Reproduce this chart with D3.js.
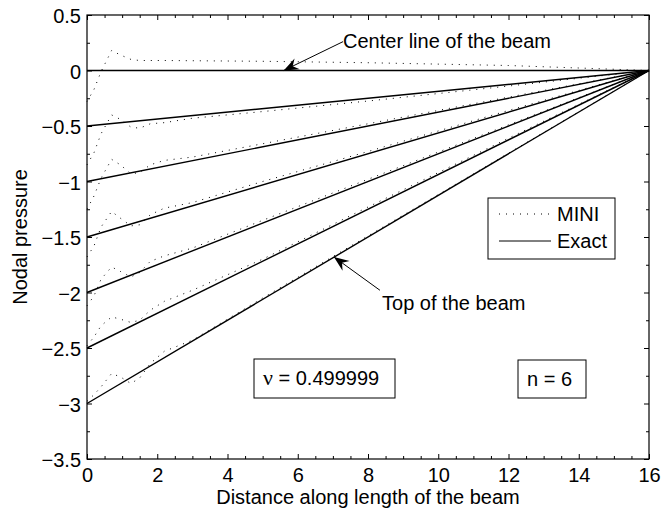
<!DOCTYPE html>
<html>
<head>
<meta charset="utf-8">
<script src="https://cdn.jsdelivr.net/npm/d3@7"></script>
<style>
body { margin: 0; background: #fff; }
text { font-family: "Liberation Sans", Arial, Helvetica, sans-serif; font-size: 20px; fill: #000; }
</style>
</head>
<body>
<svg width="664" height="515"></svg>
<script>
// node positions along the beam for the MINI solution
const xNodes = [0, 0.2, 0.4, 0.7, 0.95, 1.25, 1.5, 1.8, 2.2, 3, 5, 8, 12, 16]
const mini0 = [-0.28, -0.17, -0.01, 0.18, 0.14, 0.10, 0.09, 0.09, 0.09, 0.088, 0.083, 0.07, 0.045, 0]
const mini1 = [-0.85, -0.74, -0.57, -0.40, -0.44, -0.51, -0.52, -0.48, -0.47, -0.43, -0.37, -0.275, -0.14, 0]
const mini2 = [-1.25, -1.13, -0.97, -0.80, -0.85, -0.93, -0.92, -0.85, -0.81, -0.78, -0.66, -0.48, -0.24, 0]
const mini3 = [-1.68, -1.58, -1.41, -1.27, -1.33, -1.40, -1.39, -1.30, -1.24, -1.19, -1.00, -0.73, -0.36, 0]
const mini4 = [-2.12, -2.03, -1.88, -1.77, -1.81, -1.86, -1.82, -1.72, -1.67, -1.60, -1.35, -0.98, -0.49, 0]
const mini5 = [-2.48, -2.40, -2.30, -2.22, -2.24, -2.27, -2.25, -2.16, -2.08, -1.98, -1.70, -1.23, -0.61, 0]
const mini6 = [-2.98, -2.92, -2.85, -2.73, -2.76, -2.82, -2.77, -2.64, -2.53, -2.43, -2.05, -1.49, -0.745, 0]

// exact solution: straight lines from (0, start) to (16, 0)
const exactX = [0, 16]
const exactStart = [0, -0.5, -1, -1.5, -2, -2.5, -3]

const xTicks = [0, 2, 4, 6, 8, 10, 12, 14, 16]
const yTicks = [0.5, 0, -0.5, -1, -1.5, -2, -2.5, -3, -3.5]
const legendLabels = ['MINI', 'Exact']

const svg = d3.select('svg'),
	pLeft = 87, pRight = 649, pTop = 15, pBottom = 459

const x = d3.scaleLinear().domain([0, 16]).range([pLeft, pRight]),
	y = d3.scaleLinear().domain([-3.5, 0.5]).range([pBottom, pTop]),
	line = d3.line().x(d => x(d[0])).y(d => y(d[1]))

const minorX = d3.range(0, 16.01, 0.5).filter(v => v % 2 !== 0)
const minorY = d3.range(-3.5, 0.51, 0.25).filter(v => Math.abs(v * 2 - Math.round(v * 2)) > 0.01)

// ticks on all four sides, pointing inward
function ticks(axisFn, pos, values, size, labels) {
	const a = axisFn.tickValues(values).tickSize(-size).tickSizeOuter(0)
	if (!labels) a.tickFormat('')
	const g = svg.append('g').attr('transform', pos).call(a)
	g.select('.domain').remove()
	g.selectAll('line').attr('stroke', '#000')
	return g
}
const fmt = d3.format('~g')

const gx = ticks(d3.axisBottom(x).tickFormat(fmt).tickPadding(9), `translate(0,${pBottom})`, xTicks, 5, true)
ticks(d3.axisBottom(x), `translate(0,${pBottom})`, minorX, 3)
ticks(d3.axisTop(x), `translate(0,${pTop})`, xTicks, 5)
ticks(d3.axisTop(x), `translate(0,${pTop})`, minorX, 3)
const gy = ticks(d3.axisLeft(y).tickFormat(fmt).tickPadding(6), `translate(${pLeft},0)`, yTicks, 5, true)
ticks(d3.axisLeft(y), `translate(${pLeft},0)`, minorY, 3)
ticks(d3.axisRight(y), `translate(${pRight},0)`, yTicks, 5)
ticks(d3.axisRight(y), `translate(${pRight},0)`, minorY, 3)
gx.selectAll('text').attr('font-size', 20).attr('font-family', null)
gy.selectAll('text').attr('font-size', 20).attr('font-family', null).attr('dy', '0.38em')

// exact lines
exactStart.forEach(s => {
	svg.append('path')
		.datum([[exactX[0], s], [exactX[1], 0]])
		.attr('fill', 'none').attr('stroke', '#000').attr('stroke-width', 1.4)
		.attr('d', line)
})

// MINI dotted curves
;[mini0, mini1, mini2, mini3, mini4, mini5, mini6].forEach(vals => {
	svg.append('path')
		.datum(xNodes.map((v, i) => [v, vals[i]]))
		.attr('fill', 'none').attr('stroke', '#000').attr('stroke-width', 1)
		.attr('stroke-dasharray', '1 6')
		.attr('d', line)
})

// axes box
svg.append('rect')
	.attr('x', pLeft).attr('y', pTop).attr('width', pRight - pLeft).attr('height', pBottom - pTop)
	.attr('fill', 'none').attr('stroke', '#000').attr('stroke-width', 1.2)

// axis labels
svg.append('text').attr('x', (pLeft + pRight) / 2).attr('y', 504).attr('text-anchor', 'middle')
	.text('Distance along length of the beam')
svg.append('text').attr('transform', `translate(27,${(pTop + pBottom) / 2}) rotate(-90)`)
	.attr('text-anchor', 'middle').text('Nodal pressure')

// arrows with text
function arrow(from, tip) {
	const x0 = x(from[0]), y0 = y(from[1]), x1 = x(tip[0]), y1 = y(tip[1])
	const ang = Math.atan2(y1 - y0, x1 - x0) * 180 / Math.PI
	svg.append('line').attr('x1', x0).attr('y1', y0).attr('x2', x1).attr('y2', y1)
		.attr('stroke', '#000').attr('stroke-width', 1)
	svg.append('path').attr('d', 'M0,0 L-15,-6 L-10,0 L-15,6 Z')
		.attr('transform', `translate(${x1},${y1}) rotate(${ang})`)
		.attr('fill', '#000')
}
arrow([7.29, 0.26], [5.6, 0])
svg.append('text').attr('x', x(7.29)).attr('y', y(0.203)).text('Center line of the beam')
arrow([8.34, -1.98], [7.03, -1.68])
svg.append('text').attr('x', x(8.4)).attr('y', y(-2.158)).text('Top of the beam')

// legend
const lg = svg.append('g')
lg.append('rect').attr('x', 488).attr('y', 198).attr('width', 127).attr('height', 61)
	.attr('fill', '#fff').attr('stroke', '#000').attr('stroke-width', 1)
lg.append('line').attr('x1', 499).attr('x2', 551).attr('y1', 214).attr('y2', 214)
	.attr('stroke', '#000').attr('stroke-dasharray', '1 6')
lg.append('line').attr('x1', 499).attr('x2', 551).attr('y1', 241).attr('y2', 241)
	.attr('stroke', '#000')
lg.selectAll('text.lab').data(legendLabels).join('text')
	.attr('x', 557).attr('y', (d, i) => 221 + i * 27).text(d => d)

// parameter boxes
svg.append('rect').attr('x', 254).attr('y', 359).attr('width', 141).attr('height', 39)
	.attr('fill', '#fff').attr('stroke', '#000')
const nu = svg.append('text').attr('x', 263).attr('y', 385)
nu.append('tspan').attr('font-family', '"Liberation Serif", "DejaVu Serif", serif').attr('font-size', 22).text('ν')
nu.append('tspan').text(' = 0.499999')
svg.append('rect').attr('x', 518).attr('y', 360).attr('width', 68).attr('height', 38)
	.attr('fill', '#fff').attr('stroke', '#000')
svg.append('text').attr('x', 527).attr('y', 386).text('n = 6')
</script>
</body>
</html>
